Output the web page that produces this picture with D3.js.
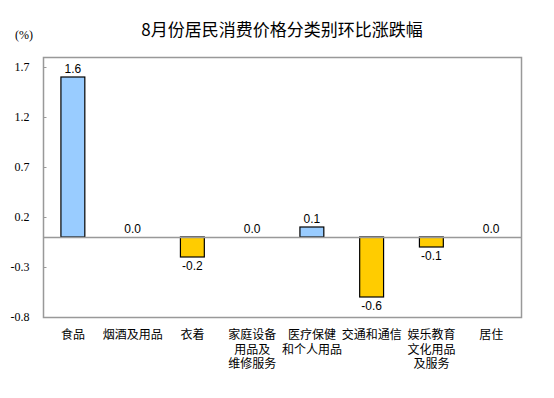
<!DOCTYPE html>
<html>
<head>
  <meta charset="utf-8">
  <script src="https://d3js.org/d3.v7.min.js"></script>
  <style>
    body { margin: 0; background: #fff; }
    .title { font-family: "Noto Sans CJK SC", sans-serif; font-size: 17px; fill: #000; }
    .tick-label, .unit { font-family: "Liberation Serif", serif; font-size: 12px; fill: #000; }
    .val { font-family: "Liberation Sans", Arial, sans-serif; font-size: 12px; fill: #000; }
    .cat { font-family: "Noto Sans CJK SC", sans-serif; font-size: 12px; fill: #000; }
  </style>
</head>
<body>
  <svg width="554" height="398"></svg>
  <script>
    // categories (multi-line labels), values in %
    var categories = [["食品"], ["烟酒及用品"], ["衣着"], ["家庭设备", "用品及", "维修服务"],
                      ["医疗保健", "和个人用品"], ["交通和通信"], ["娱乐教育", "文化用品", "及服务"], ["居住"]];
    var values = [1.6, 0.0, -0.2, 0.0, 0.1, -0.6, -0.1, 0.0];
    var yTicks = [1.7, 1.2, 0.7, 0.2, -0.3, -0.8];

    var svg = d3.select("svg");
    var plotL = 43, plotR = 521, plotT = 57, plotB = 317;

    var x = d3.scaleBand()
      .domain(d3.range(categories.length))
      .range([plotL, plotR])
      .paddingInner(0.6)
      .paddingOuter(0.3);
    var y = d3.scaleLinear().domain([-0.8, 1.8]).range([plotB, plotT]);

    svg.append("text").attr("class", "title")
      .attr("x", (plotL + plotR) / 2).attr("y", 36)
      .attr("text-anchor", "middle")
      .text("8月份居民消费价格分类别环比涨跌幅");

    svg.append("text").attr("class", "unit")
      .attr("x", 15).attr("y", 39).text("(%)");

    // plot box
    svg.append("rect")
      .attr("x", plotL + 0.5).attr("y", plotT + 0.5)
      .attr("width", plotR - plotL).attr("height", plotB - plotT)
      .attr("fill", "none").attr("stroke", "#999").attr("stroke-width", 1.5);

    // y axis: inner ticks
    var yAxis = d3.axisLeft(y).tickValues(yTicks).tickSize(-3).tickPadding(14)
      .tickFormat(d3.format(".1f"));
    var ga = svg.append("g").attr("transform", "translate(" + (plotL + 0.5) + ",0)").call(yAxis);
    ga.select(".domain").remove();
    ga.selectAll(".tick line").attr("stroke", "#999");
    ga.selectAll(".tick text").attr("class", "tick-label")
      .text(function (d) { return d3.format(".1f")(d).replace("−", "-"); });
    ga.attr("font-family", null).attr("font-size", null);

    // bars (zero values draw nothing)
    svg.selectAll("rect.bar")
      .data(values.map(function (v, i) { return { i: i, v: v }; }).filter(function (d) { return d.v !== 0; }))
      .enter().append("rect")
      .attr("class", "bar")
      .attr("x", function (d) { return x(d.i); })
      .attr("y", function (d) { return y(Math.max(0, d.v)); })
      .attr("height", function (d) { return Math.abs(y(d.v) - y(0)); })
      .attr("width", x.bandwidth())
      .attr("fill", function (d) { return d.v > 0 ? "#99CCFF" : "#FFCC00"; })
      .attr("stroke", "#000").attr("stroke-width", 1.2);

    // zero line
    svg.append("line")
      .attr("x1", plotL).attr("x2", plotR)
      .attr("y1", y(0) + 0.5).attr("y2", y(0) + 0.5)
      .attr("stroke", "#999").attr("stroke-width", 1.5);

    // value labels
    svg.selectAll("text.val")
      .data(values)
      .enter().append("text")
      .attr("class", "val")
      .attr("x", function (d, i) { return x(i) + x.bandwidth() / 2; })
      .attr("y", function (d) { return d < 0 ? y(d) + 13 : y(d) - 4; })
      .attr("text-anchor", "middle")
      .text(function (d) { return d3.format(".1f")(d).replace("−", "-"); });

    // category labels
    var cat = svg.selectAll("text.cat")
      .data(categories)
      .enter().append("text")
      .attr("class", "cat")
      .attr("text-anchor", "middle")
      .attr("transform", function (d, i) { return "translate(" + (x(i) + x.bandwidth() / 2) + ",339)"; });
    cat.selectAll("tspan")
      .data(function (d) { return d; })
      .enter().append("tspan")
      .attr("x", 0)
      .attr("dy", function (d, j) { return j === 0 ? 0 : 14.5; })
      .text(function (d) { return d; });
  </script>
</body>
</html>
